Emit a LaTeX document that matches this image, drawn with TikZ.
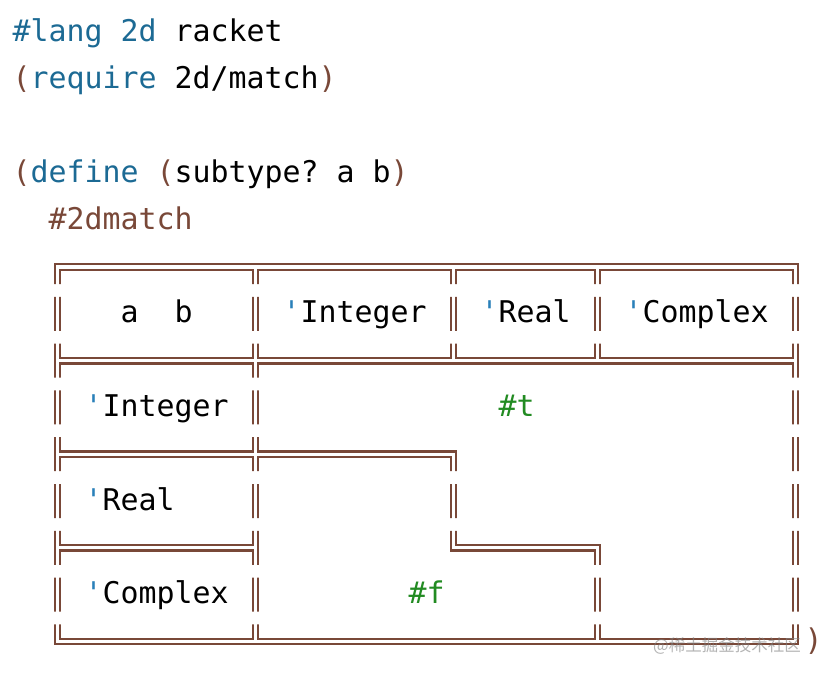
\documentclass[tikz,border=0pt]{standalone}
\usepackage{fontspec}
\usepackage{xcolor}
\setmonofont{DejaVu Sans Mono}
\newfontfamily\cjkfont{Noto Sans CJK SC}

\definecolor{kwblue}{RGB}{28,106,148}
\definecolor{qtblue}{RGB}{41,128,185}
\definecolor{parbrown}{RGB}{121,72,56}
\definecolor{litgreen}{RGB}{34,139,34}

\newcommand{\kw}[1]{\textcolor{kwblue}{#1}}
\newcommand{\pn}[1]{\textcolor{parbrown}{#1}}
\newcommand{\qt}{\textcolor{qtblue}{'}}
% column and baseline of the monospaced grid
\newcommand{\cx}[1]{12.5+18*(#1)}
\newcommand{\by}[1]{42+46.8*(#1-1)}

\tikzset{
    code/.style={anchor=base west, inner sep=0pt, font={\ttfamily\fontsize{29.9}{46.8}\selectfont}},
    wall/.style={draw=parbrown, line width=2.4pt},
}

\frenchspacing
\begin{document}
\begin{tikzpicture}[x=1pt, y=-1pt]
    \useasboundingbox (0,0) rectangle (840,676);

    % source lines
    \node[code] (lang) at ({\cx{0}},{\by{1}}) {\kw{\#lang 2d} racket};
    \node[code] (req) at ({\cx{0}},{\by{2}}) {\pn{(}\kw{require} 2d/match\pn{)}};
    \node[code] (def) at ({\cx{0}},{\by{4}}) {\pn{(}\kw{define} \pn{(}subtype? a b\pn{)}};
    \node[code] (mat) at ({\cx{2}},{\by{5}}) {\pn{\#2dmatch}};

    % cell contents
    \node[code] (hab) at ({\cx{6}},{\by{7}}) {a~~b};
    \node[code] (hint) at ({\cx{15}},{\by{7}}) {\qt Integer};
    \node[code] (hreal) at ({\cx{26}},{\by{7}}) {\qt Real};
    \node[code] (hcomp) at ({\cx{34}},{\by{7}}) {\qt Complex};
    \node[code] (rint) at ({\cx{4}},{\by{9}}) {\qt Integer};
    \node[code] (rreal) at ({\cx{4}},{\by{11}}) {\qt Real};
    \node[code] (rcomp) at ({\cx{4}},{\by{13}}) {\qt Complex};
    \node[code, text=litgreen] (yes) at ({\cx{27}},{\by{9}}) {\#t};
    \node[code, text=litgreen] (no) at ({\cx{22}},{\by{13}}) {\#f};

    % double walls, cut into one piece per text line
    \def\XA{57.5} \def\XB{255.5} \def\XC{453.5} \def\XD{597.5} \def\XE{795.5}
    \def\YA{267} \def\YB{360.6} \def\YC{454.2} \def\YD{547.8} \def\YE{641.4}
    \def\off{2.7}
    \begin{scope}
        \clip \foreach \n in {6,...,14} {(0,{\by{\n}-26}) rectangle (840,{\by{\n}+8})};
        \draw[wall] ({\XA-\off},{\YA-\off}) rectangle ({\XE+\off},{\YE+\off});
        \foreach \l/\r in {\XA/\XB,\XB/\XC,\XC/\XD,\XD/\XE}
            \draw[wall] ({\l+\off},{\YA+\off}) rectangle ({\r-\off},{\YB-\off});
        \foreach \t/\b in {\YB/\YC,\YC/\YD,\YD/\YE}
            \draw[wall] ({\XA+\off},{\t+\off}) rectangle ({\XB-\off},{\b-\off});
        % #t region
        \draw[wall] ({\XB+\off},{\YB+\off}) -- ({\XE-\off},{\YB+\off}) -- ({\XE-\off},{\YE-\off})
            -- ({\XD+\off},{\YE-\off}) -- ({\XD+\off},{\YD-\off}) -- ({\XC+\off},{\YD-\off})
            -- ({\XC+\off},{\YC-\off}) -- ({\XB+\off},{\YC-\off}) -- cycle;
        % #f region
        \draw[wall] ({\XB+\off},{\YC+\off}) -- ({\XC-\off},{\YC+\off}) -- ({\XC-\off},{\YD+\off})
            -- ({\XD-\off},{\YD+\off}) -- ({\XD-\off},{\YE-\off}) -- ({\XB+\off},{\YE-\off}) -- cycle;
    \end{scope}

    \node[code] (close) at ({\cx{44}},{\by{14}}) {\pn{)}};
    \node[text=gray, opacity=0.6, inner sep=0pt, font={\cjkfont\fontsize{16.5}{18}\selectfont}] (mark) at (727,646) {@稀土掘金技术社区};
\end{tikzpicture}
\end{document}
